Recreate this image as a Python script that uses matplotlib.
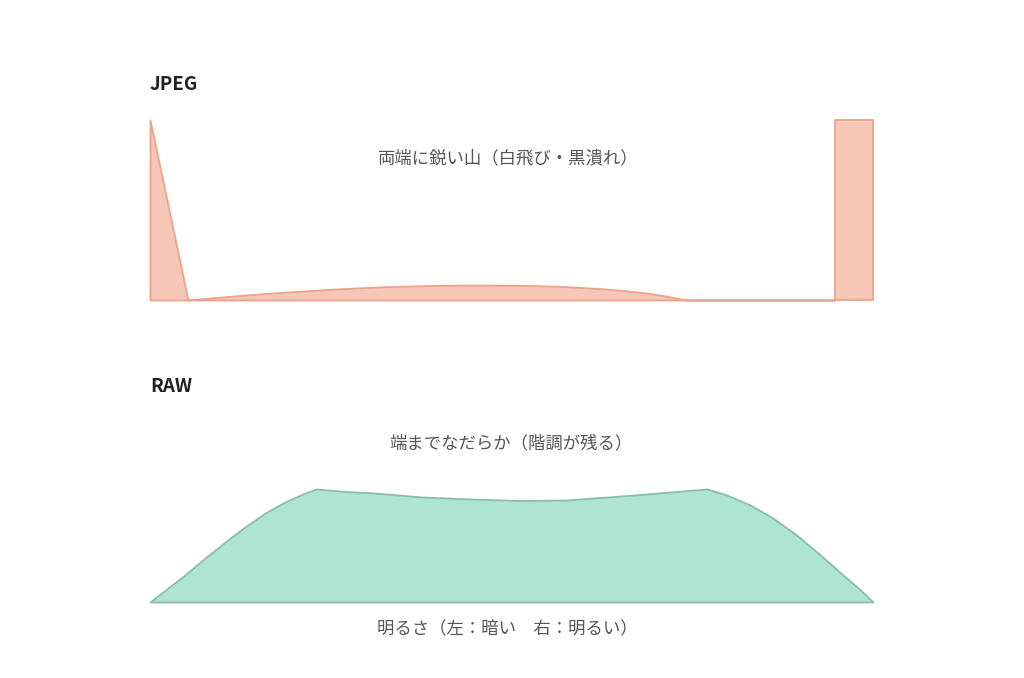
import matplotlib.pyplot as plt
import numpy as np

plt.rcParams['font.family'] = ['Noto Sans CJK JP', 'DejaVu Sans']

# brightness (0-255) vs. relative pixel count (0-100)
jpeg_x = [0, 13.4, 24, 34, 44, 54, 64, 74, 83, 92, 101, 110, 119, 127, 136,
          144, 152, 159, 167, 175, 182, 189, 241.6]
jpeg_y = [100, 0, 1.5, 2.8, 4.0, 5.0, 6.0, 6.8, 7.4, 7.8, 8.1, 8.3, 8.3, 8.2,
          8.0, 7.6, 7.0, 6.3, 5.3, 3.9, 2.2, 0, 0]
jpeg_clip_x = [241.6, 255]
jpeg_clip_y = [100, 100]

raw_x = [0, 5.3, 12.3, 19.4, 26.5, 33.5, 40.6, 47.6, 54.7, 58.7, 68.8, 78.7,
         96.3, 113.9, 130.5, 147.1, 170.4, 183.4, 196.5, 203.5, 211.6, 219.7,
         228.2, 236.3, 244.4, 250.4, 255]
raw_y = [0, 6.5, 15.0, 24.4, 33.3, 41.7, 49.4, 55.6, 60.6, 62.8, 61.4, 60.6,
         58.3, 57.2, 56.4, 56.7, 59.4, 61.1, 62.8, 59.4, 53.9, 46.7,
         37.0, 26.3, 15.0, 7.0, 0]

titles = ["JPEG", "RAW"]
notes = ["両端に鋭い山（白飛び・黒潰れ）", "端までなだらか（階調が残る）"]
xlabel = "明るさ（左：暗い　右：明るい）"

W, H = 1024, 678
fig = plt.figure(figsize=(W / 100, H / 100), dpi=100)
fig.patch.set_facecolor('white')

def px_axes(left, bottom, width, height):
    return fig.add_axes([left / W, 1 - bottom / H, width / W, height / H])

ax1 = px_axes(150, 300, 723, 180)
ax2 = px_axes(150, 602, 723, 180)

jpeg_fc, jpeg_ec = '#f6c6b6', '#eba38c'
raw_fc, raw_ec = '#aee4d2', '#8cbcaa'

ax1.fill_between(jpeg_x, jpeg_y, 0, facecolor=jpeg_fc, edgecolor=jpeg_ec,
                 linewidth=1.3, clip_on=False)
ax1.fill_between(jpeg_clip_x, jpeg_clip_y, 0, facecolor=jpeg_fc, edgecolor=jpeg_ec,
                 linewidth=1.3, clip_on=False)
ax2.fill_between(raw_x, raw_y, 0, facecolor=raw_fc, edgecolor=raw_ec,
                 linewidth=1.3, clip_on=False)

for ax in (ax1, ax2):
    ax.set_xlim(0, 255)
    ax.set_ylim(0, 100)
    ax.axis('off')

fig.text(150 / W, 1 - 84 / H, titles[0], fontsize=13.5, fontweight='bold',
         color='#222222', va='center', ha='left')
fig.text(150 / W, 1 - 386 / H, titles[1], fontsize=13.5, fontweight='bold',
         color='#222222', va='center', ha='left')
fig.text(507 / W, 1 - 158 / H, notes[0], fontsize=12.5, color='#555555',
         va='center', ha='center')
fig.text(511 / W, 1 - 443 / H, notes[1], fontsize=12.5, color='#555555',
         va='center', ha='center')
fig.text(507 / W, 1 - 628 / H, xlabel, fontsize=12.5, color='#555555',
         va='center', ha='center')

plt.savefig("out.png", dpi=100)
